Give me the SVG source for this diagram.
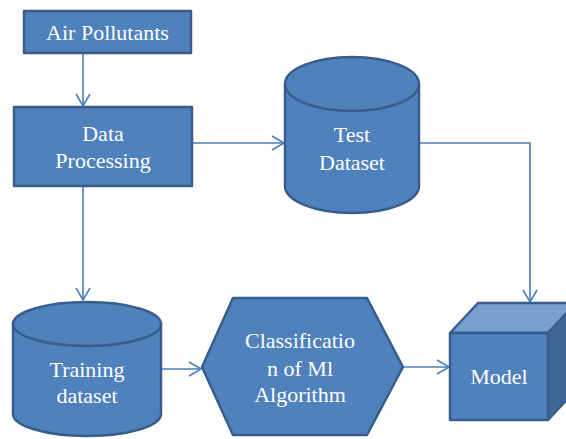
<svg xmlns="http://www.w3.org/2000/svg" width="566" height="439" viewBox="0 0 566 439">
<style>
.shape{fill:#4f81bd;stroke:#385d8a;stroke-width:2.5;stroke-linejoin:round}
.lbl{font-family:'Liberation Serif','Times New Roman',Times,serif;font-size:22px;fill:#ffffff;text-anchor:middle}
.conn{fill:none;stroke:#4a7ebb;stroke-width:1.6}
</style>
<defs>
<marker id="arr" markerUnits="userSpaceOnUse" markerWidth="16" markerHeight="18" refX="13" refY="8" orient="auto" viewBox="0 0 16 16">
<path d="M1,1 L13,8 L1,15" fill="none" stroke="#4a7ebb" stroke-width="1.6"/>
</marker>
</defs>
<rect width="566" height="439" fill="#ffffff"/>
<g id="connectors">
<path class="conn" d="M83,53 L83,106" marker-end="url(#arr)"/>
<path class="conn" d="M192,143 L284,143" marker-end="url(#arr)"/>
<path class="conn" d="M419,143 L530,143 L530,302" marker-end="url(#arr)"/>
<path class="conn" d="M83,186 L83,300" marker-end="url(#arr)"/>
<path class="conn" d="M161,369 L201,369" marker-end="url(#arr)"/>
<path class="conn" d="M403,367 L449,367" marker-end="url(#arr)"/>
</g>
<g id="air-pollutants">
<rect class="shape" x="24" y="11" width="167" height="42"/>
<text class="lbl" x="107.5" y="40">Air Pollutants</text>
</g>
<g id="data-processing">
<rect class="shape" x="14" y="107" width="178" height="79"/>
<text class="lbl" x="103" y="141">Data</text>
<text class="lbl" x="103" y="168">Processing</text>
</g>
<g id="test-dataset">
<path class="shape" d="M285,84 A67,27 0 0 1 419,84 L419,186 A67,27 0 0 1 285,186 Z"/>
<path class="shape" d="M285,84 A67,27 0 0 0 419,84" fill="none"/>
<text class="lbl" x="352" y="142">Test</text>
<text class="lbl" x="352" y="170">Dataset</text>
</g>
<g id="training-dataset">
<path class="shape" d="M13,324 A74,22 0 0 1 161,324 L161,414 A74,22 0 0 1 13,414 Z"/>
<path class="shape" d="M13,324 A74,22 0 0 0 161,324" fill="none"/>
<text class="lbl" x="87" y="377">Training</text>
<text class="lbl" x="87" y="403">dataset</text>
</g>
<g id="classification">
<polygon class="shape" points="202,367 233,298 367,298 403,367 367,435 233,435"/>
<text class="lbl" x="300" y="348">Classificatio</text>
<text class="lbl" x="300" y="376">n of Ml</text>
<text class="lbl" x="300" y="402">Algorithm</text>
</g>
<g id="model">
<polygon points="450,333 478,303 576,303 548,333" fill="#789fd0" stroke="#385d8a" stroke-width="2.5" stroke-linejoin="round"/>
<polygon points="548,333 576,303 576,390 548,420" fill="#3f6797" stroke="#385d8a" stroke-width="2.5" stroke-linejoin="round"/>
<rect class="shape" x="450" y="333" width="98" height="87"/>
<text class="lbl" x="499" y="384">Model</text>
</g>
</svg>
